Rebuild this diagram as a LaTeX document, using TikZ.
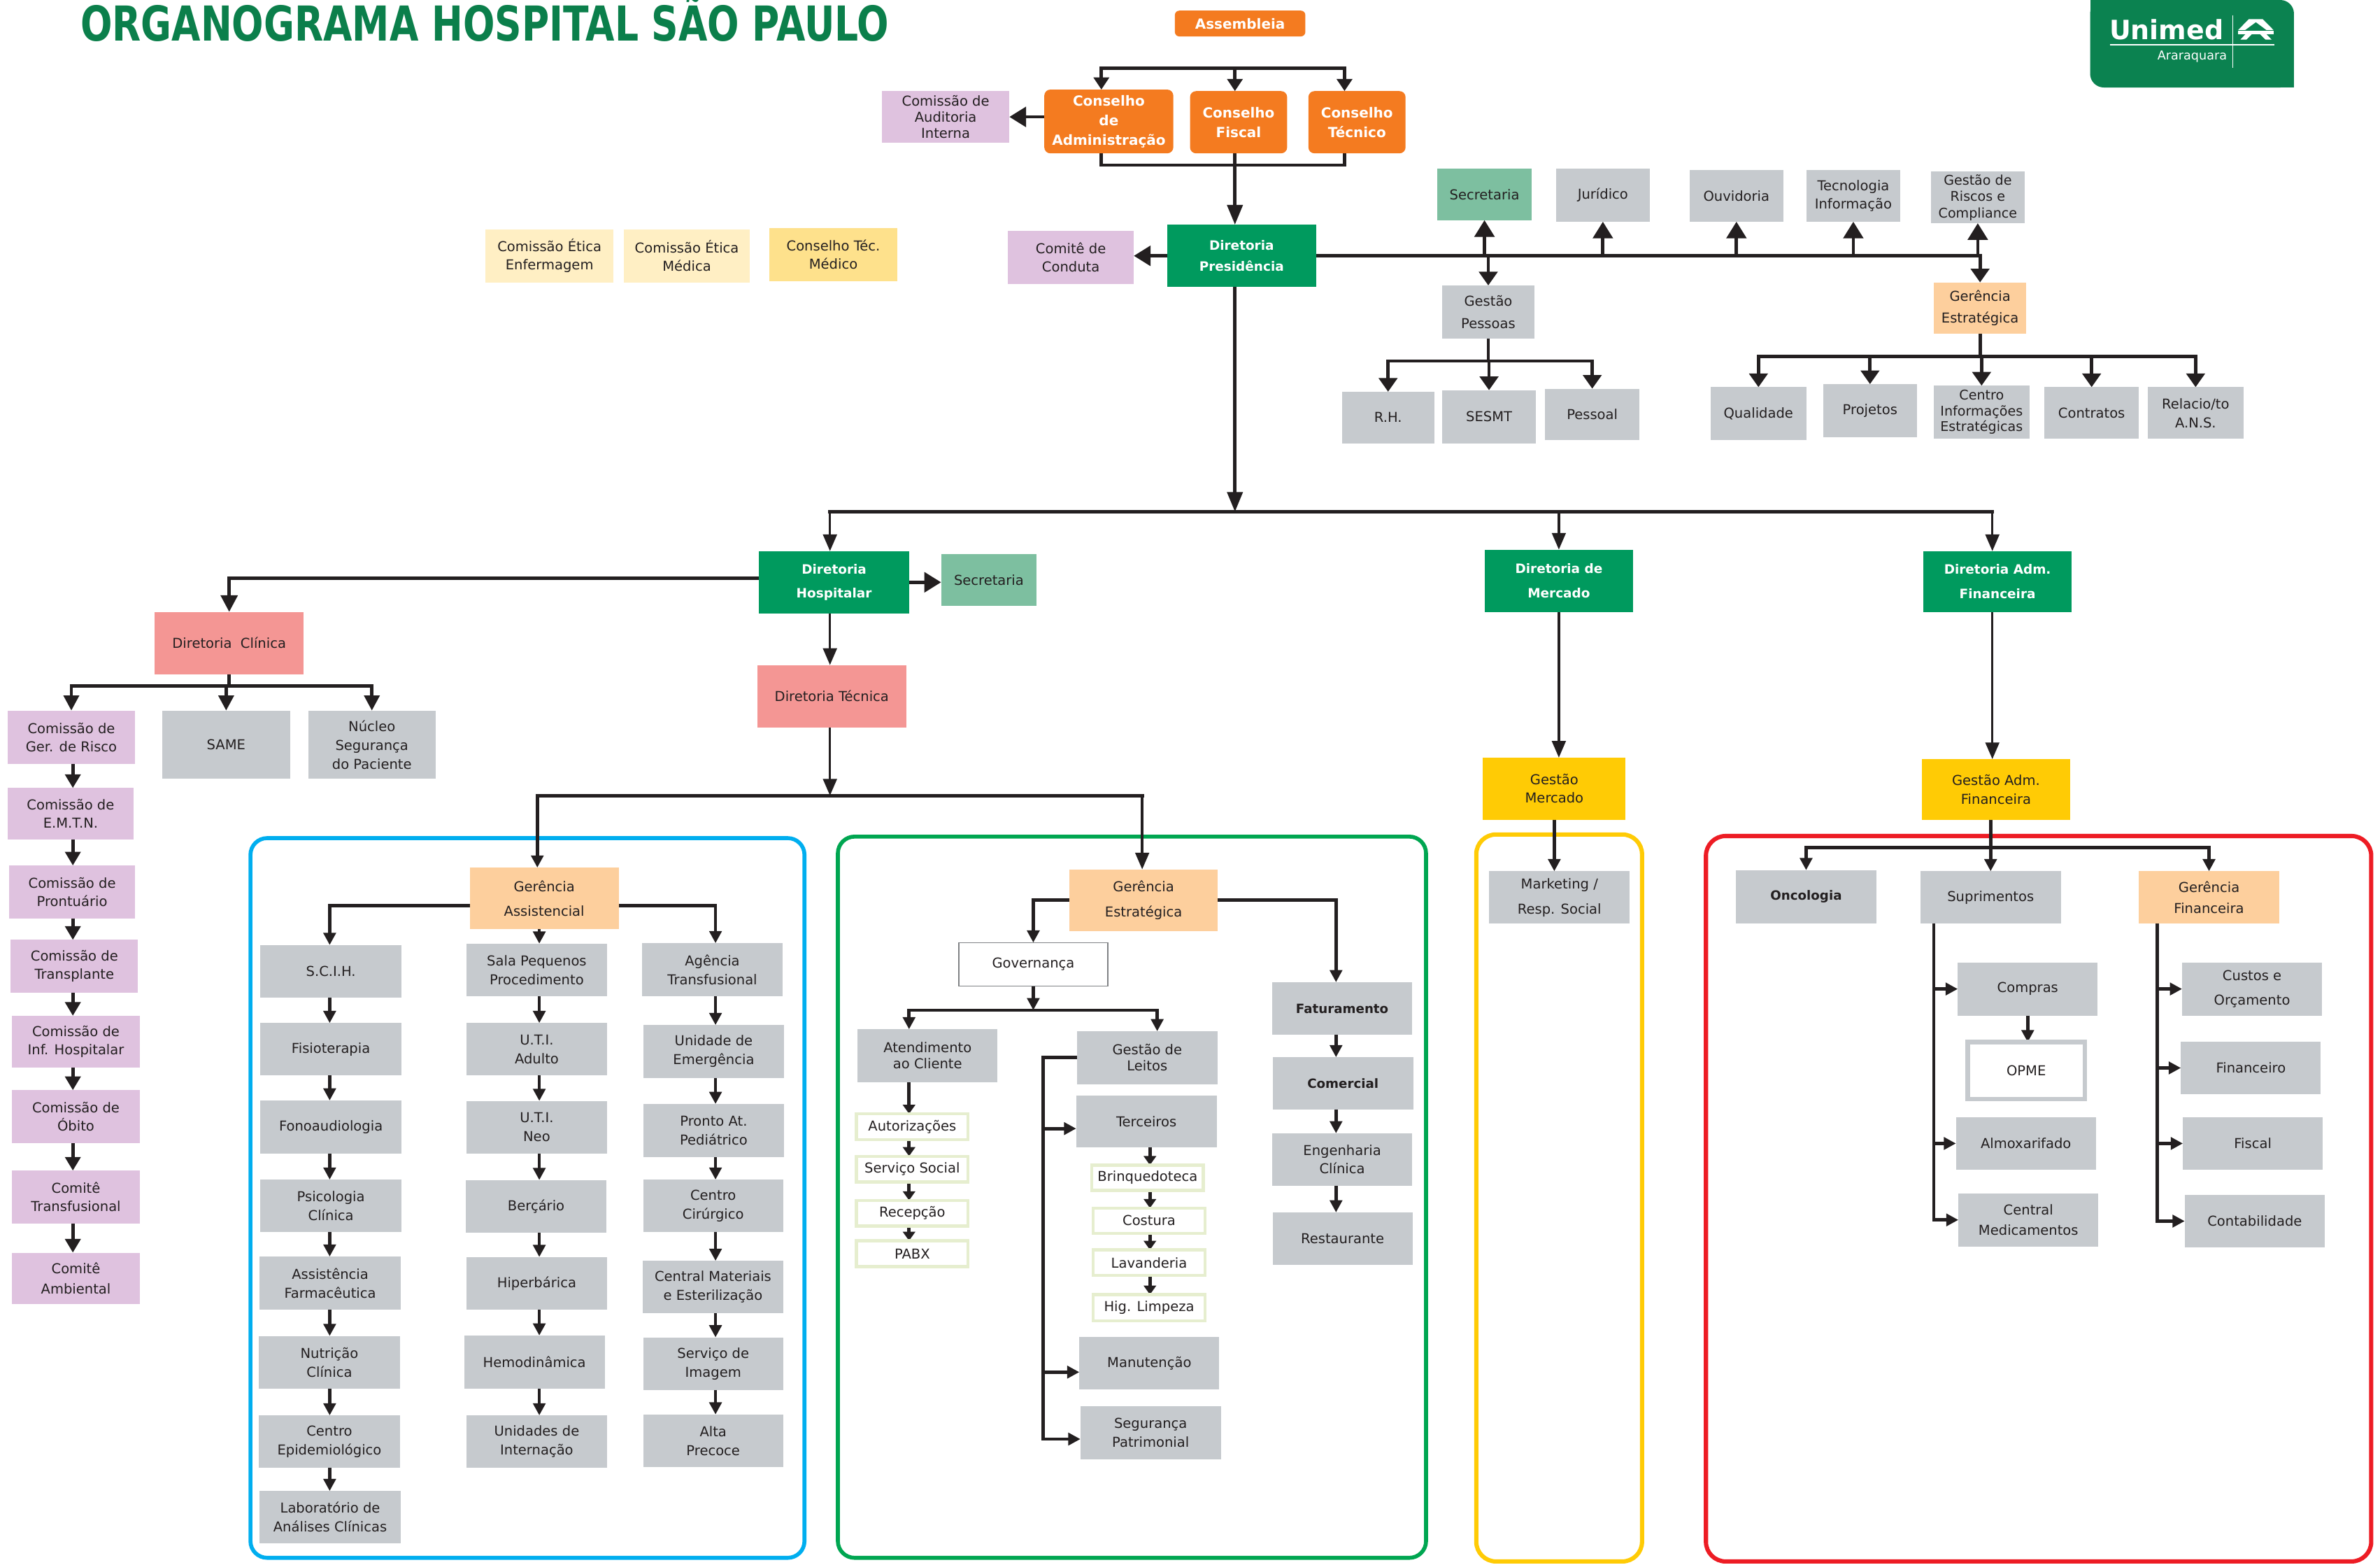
\documentclass[tikz,border=0pt]{standalone}
\usepackage{fontspec}
\usepackage{graphicx}
\setmainfont{DejaVu Sans}
\usetikzlibrary{arrows.meta}
\definecolor{ink}{HTML}{231F20}
\definecolor{orng}{HTML}{F47B20}
\definecolor{dgreen}{HTML}{009A5E}
\definecolor{mgreen}{HTML}{7DBFA0}
\definecolor{lilac}{HTML}{DFC2DF}
\definecolor{greyb}{HTML}{C6CACE}
\definecolor{peach}{HTML}{FDCF9D}
\definecolor{salmon}{HTML}{F49694}
\definecolor{yel}{HTML}{FFCB05}
\definecolor{pale}{HTML}{FFEFC4}
\definecolor{ctmc}{HTML}{FEE18C}
\definecolor{bluef}{HTML}{00AEEF}
\definecolor{greenf}{HTML}{00A651}
\definecolor{redf}{HTML}{ED1C24}
\definecolor{titleg}{HTML}{0B7F4B}
\definecolor{logog}{HTML}{0B8250}
\definecolor{paleg}{HTML}{E6EECF}
\definecolor{govb}{HTML}{808285}
\newcommand\fsz[2]{\fontsize{#1}{#2}\selectfont}
\newcommand\mkbox[7]{\node[#6, minimum width={(#4-#2)*1pt}, minimum height={(#5-#3)*1pt}] (#1) at ({(#2+#4)/2},{(#3+#5)/2}) {#7};}
\pgfdeclarelayer{frames}
\pgfdeclarelayer{lines}
\pgfsetlayers{frames,lines,main}
\tikzset{
  box/.style={inner sep=0pt, outer sep=0pt, align=center, text=ink, font=\fsz{9}{11}},
  grey/.style={box, fill=greyb},
  lil/.style={box, fill=lilac, font=\fsz{9}{12}},
  org/.style={box, fill=orng, rounded corners=4pt, text=white, font=\bfseries\fsz{9.2}{13}},
  dg/.style={box, fill=dgreen, text=white, font=\bfseries\fsz{8.5}{16}},
  pch/.style={box, fill=peach, font=\fsz{9}{16.4}},
  blu/.style={grey, font=\fsz{9}{12.5}},
  sm/.style={box, fill=white, draw=paleg, line width=2pt},
  con/.style={draw=ink, line width=2.2pt, line cap=rect},
  thn/.style={draw=ink, line width=1.6pt},
  aL/.style={-{Triangle[width=13pt,length=11pt]}},
  aD/.style={-{Triangle[width=12pt,length=9pt]}},
  aM/.style={-{Triangle[width=10pt,length=8pt]}},
  aS/.style={-{Triangle[width=8pt,length=8pt]}},
  aX/.style={-{Triangle[width=8pt,length=6pt]}},
  aT/.style={-{Triangle[width=9pt,length=11pt]}},
  aB/.style={-{Triangle[width=13pt,length=11pt]}},
  frame/.style={line width=2.6pt, rounded corners=11pt},
}
\begin{document}
\begin{tikzpicture}[x=1pt,y=-1pt]
\useasboundingbox (0,0) rectangle (1568,1030.3);
\begin{pgfonlayer}{frames}
\fill[white] (0,0) rectangle (1568,1030.3);
\end{pgfonlayer}

% ---------- title and logo
\node[anchor=base west, inner sep=0pt, text=titleg] (title) at (52.8,26.9)
  {\scalebox{0.778}[1]{\bfseries\fsz{31.7}{32}ORGANOGRAMA HOSPITAL SÃO PAULO}};
\fill[logog, rounded corners=9pt] (1377,0) rectangle (1511.3,57.6);
\fill[logog] (1377,0) rectangle (1420,20);
\fill[logog] (1460,20) rectangle (1511.3,57.6);
\node[anchor=base west, inner sep=0pt, text=white, font=\bfseries\fsz{17.5}{18}] (uni) at (1389.5,26.1) {Unimed};
\node[anchor=base east, inner sep=0pt, text=white, font=\fsz{8.1}{9}] (arq) at (1467.3,39.2) {Araraquara};
\draw[white, line width=0.7pt] (1390,29.6) -- (1498.6,29.6);
\draw[white, line width=0.7pt] (1470.9,10) -- (1470.9,44.5);
\fill[white] (1474.5,19.8) -- (1481.6,12.6) -- (1490.7,12.6) -- (1497.8,19.8) -- (1493.2,19.8) -- (1486.2,14.6) -- (1479.1,19.8) -- cycle;
\fill[white] (1474.5,20.4) rectangle (1497.8,22.6);
\fill[white] (1479.3,22.6) -- (1483.5,22.6) -- (1480,26.1) -- (1476,26.1) -- cycle;
\fill[white] (1489,22.6) -- (1493.2,22.6) -- (1496.6,26.1) -- (1492.6,26.1) -- cycle;

% ---------- top
\mkbox{asm}{774}{7}{860}{24}{org, rounded corners=3pt}{Assembleia}
\mkbox{cadm}{688}{59}{773}{101}{org}{Conselho\\de\\Administração}
\mkbox{cfis}{784}{60}{848}{101}{org}{Conselho\\Fiscal}
\mkbox{ctec}{862}{60}{926}{101}{org}{Conselho\\Técnico}
\mkbox{caud}{581}{60}{665}{94}{lil, font=\fsz{9}{10.4}}{Comissão de\\Auditoria\\Interna}
\mkbox{pres}{769}{148}{867}{189}{dg, font=\bfseries\fsz{8.5}{13.8}}{Diretoria\\Presidência}
\mkbox{cond}{664}{152}{747}{187}{lil, font=\fsz{9}{11.8}}{Comitê de\\Conduta}
\mkbox{cee}{320}{151}{404}{186}{box, fill=pale, font=\fsz{9}{11.8}}{Comissão Ética\\Enfermagem}
\mkbox{cem}{411}{151}{494}{186}{box, fill=pale, font=\fsz{9}{11.8}}{Comissão Ética\\Médica}
\mkbox{ctm}{507}{150}{591}{185}{box, fill=ctmc, font=\fsz{9}{11.8}}{Conselho Téc.\\Médico}

% ---------- top right
\mkbox{sec1}{947}{111}{1009}{145}{box, fill=mgreen}{Secretaria}
\mkbox{jur}{1025}{111}{1087}{146}{grey}{Jurídico}
\mkbox{ouv}{1113}{112}{1175}{146}{grey}{Ouvidoria}
\mkbox{ti}{1190}{112}{1252}{146}{grey, font=\fsz{9}{12}}{Tecnologia\\Informação}
\mkbox{grc}{1272}{113}{1334}{147}{grey, font=\fsz{8.8}{10.8}}{Gestão de\\Riscos e\\Compliance}
\mkbox{gp}{950}{188}{1011}{223}{grey, font=\fsz{9}{15}}{Gestão\\Pessoas}
\mkbox{gest1}{1274}{186}{1335}{220}{box, fill=peach, font=\fsz{9}{14.3}}{Gerência\\Estratégica}
\mkbox{rh}{884}{258}{945}{292}{grey}{R.H.}
\mkbox{sesmt}{950}{257}{1012}{292}{grey}{SESMT}
\mkbox{pess}{1018}{256}{1080}{290}{grey}{Pessoal}
\mkbox{qual}{1127}{255}{1190}{290}{grey}{Qualidade}
\mkbox{proj}{1201}{253}{1263}{288}{grey}{Projetos}
\mkbox{cie}{1274}{254}{1337}{289}{grey, font=\fsz{8.8}{10.4}}{Centro\\Informações\\Estratégicas}
\mkbox{contr}{1347}{255}{1409}{289}{grey}{Contratos}
\mkbox{ans}{1415}{255}{1478}{289}{grey, font=\fsz{9}{12.5}}{Relacio/to\\A.N.S.}

% ---------- directors
\mkbox{hosp}{500}{363}{599}{404}{dg}{Diretoria\\Hospitalar}
\mkbox{sec2}{620}{365}{683}{399}{box, fill=mgreen}{Secretaria}
\mkbox{merc}{978}{362}{1076}{403}{dg, font=\bfseries\fsz{8.5}{15.8}}{Diretoria de\\Mercado}
\mkbox{admf}{1267}{363}{1365}{403}{dg, font=\bfseries\fsz{8.5}{15.8}}{Diretoria Adm.\\Financeira}
\mkbox{tec}{499}{438}{597}{479}{box, fill=salmon}{Diretoria Técnica}
\mkbox{clin}{102}{403}{200}{444}{box, fill=salmon}{Diretoria\ \ Clínica}
\mkbox{gmerc}{977}{499}{1071}{540}{box, fill=yel, font=\fsz{9}{12}}{Gestão\\Mercado}
\mkbox{gadmf}{1266}{500}{1364}{540}{box, fill=yel, font=\fsz{9}{12}}{Gestão Adm.\\Financeira}

% ---------- left column
\mkbox{cgr}{5}{468}{89}{503}{lil}{Comissão de\\Ger. de Risco}
\mkbox{same}{107}{468}{191}{513}{grey}{SAME}
\mkbox{nsp}{203}{468}{287}{513}{grey, font=\fsz{9}{12.5}}{Núcleo\\Segurança\\do Paciente}
\mkbox{cemtn}{5}{519}{88}{553}{lil}{Comissão de\\E.M.T.N.}
\mkbox{cpront}{6}{570}{89}{605}{lil}{Comissão de\\Prontuário}
\mkbox{ctransp}{7}{619}{91}{654}{lil}{Comissão de\\Transplante}
\mkbox{cinf}{8}{669}{92}{703}{lil}{Comissão de\\Inf. Hospitalar}
\mkbox{cobito}{8}{718}{92}{753}{lil}{Comissão de\\Óbito}
\mkbox{ctransf}{8}{771}{92}{806}{lil}{Comitê\\Transfusional}
\mkbox{camb}{8}{825}{92}{859}{lil, font=\fsz{9}{13}}{Comitê\\Ambiental}

% ---------- frames
\begin{pgfonlayer}{frames}
\draw[frame, draw=bluef] (165,552) rectangle (530,1026);
\draw[frame, draw=greenf] (552,551) rectangle (939.5,1026);
\draw[frame, draw=yel, line width=2.8pt, rounded corners=13pt] (972.6,549.6) rectangle (1081.8,1028.4);
\draw[frame, draw=redf, line width=2.8pt, rounded corners=13pt] (1123.9,550.6) rectangle (1562.2,1028.4);
\end{pgfonlayer}

% ---------- blue area
\mkbox{gass}{309.5}{571.4}{407.6}{612.1}{pch}{Gerência\\Assistencial}
\mkbox{scih}{171.5}{622.4}{264.5}{657.2}{blu}{S.C.I.H.}
\mkbox{fisio}{171.5}{673.8}{264.5}{708.2}{blu}{Fisioterapia}
\mkbox{fono}{171.5}{724.8}{264.5}{759.6}{blu}{Fonoaudiologia}
\mkbox{psico}{171.5}{776.9}{264.5}{811.6}{blu}{Psicologia\\Clínica}
\mkbox{assist}{171}{827.6}{264}{862.4}{blu}{Assistência\\Farmacêutica}
\mkbox{nutri}{170.6}{879.9}{263.4}{914.7}{blu}{Nutrição\\Clínica}
\mkbox{cepid}{170.6}{932.2}{263.4}{966.6}{blu}{Centro\\Epidemiológico}
\mkbox{lab}{171}{982}{264}{1016.5}{blu}{Laboratório de\\Análises Clínicas}
\mkbox{sala}{307.4}{621.5}{399.8}{656.2}{blu}{Sala Pequenos\\Procedimento}
\mkbox{utia}{307.4}{673.8}{399.8}{708.2}{blu}{U.T.I.\\Adulto}
\mkbox{utin}{307.4}{725.1}{399.8}{759.9}{blu}{U.T.I.\\Neo}
\mkbox{berc}{307}{777.2}{399.4}{811.9}{blu}{Berçário}
\mkbox{hiper}{307.4}{827.9}{399.8}{862.7}{blu}{Hiperbárica}
\mkbox{hemo}{305.8}{879.6}{398.4}{914.4}{blu}{Hemodinâmica}
\mkbox{unid}{307.4}{932.2}{399.8}{966.6}{blu}{Unidades de\\Internação}
\mkbox{agen}{423.1}{621.2}{515.5}{656}{blu}{Agência\\Transfusional}
\mkbox{uemerg}{424}{675.1}{516.4}{709.9}{blu}{Unidade de\\Emergência}
\mkbox{pronto}{424}{727.1}{516.4}{761.9}{blu}{Pronto At.\\Pediátrico}
\mkbox{ccir}{423.7}{776.9}{516}{811.6}{blu}{Centro\\Cirúrgico}
\mkbox{cme}{423.5}{830.4}{516}{864.9}{blu}{Central Materiais\\e Esterilização}
\mkbox{simg}{423.7}{880.8}{516}{915.6}{blu}{Serviço de\\Imagem}
\mkbox{alta}{423.7}{931.6}{516}{966.3}{blu}{Alta\\Precoce}

% ---------- green area
\mkbox{gest2}{704.5}{572.6}{802.3}{613.3}{pch}{Gerência\\Estratégica}
\mkbox{gov}{631.7}{620.8}{729.8}{649.4}{box, fill=white, draw=govb, line width=0.7pt}{Governança}
\mkbox{atend}{565}{677.9}{657.2}{712.6}{grey, font=\fsz{9}{10.5}}{Atendimento\\ao Cliente}
\mkbox{leitos}{709.6}{679.2}{802}{714}{grey, font=\fsz{9}{10.5}}{Gestão de\\Leitos}
\mkbox{fat}{838}{646.9}{930.5}{681.6}{grey, font=\bfseries\fsz{8.4}{11}}{Faturamento}
\mkbox{com}{838.5}{696.3}{931}{730.8}{grey, font=\bfseries\fsz{8.4}{11}}{Comercial}
\mkbox{eng}{838}{746.4}{930.5}{781.2}{grey, font=\fsz{9}{12}}{Engenharia\\Clínica}
\mkbox{rest}{838.4}{798.5}{930.6}{833.2}{grey}{Restaurante}
\mkbox{aut}{564.2}{733.6}{637.8}{750.5}{sm}{Autorizações}
\mkbox{ssoc}{564.2}{761.5}{637.8}{778.4}{sm}{Serviço Social}
\mkbox{recep}{564.2}{790.6}{637.8}{807.5}{sm}{Recepção}
\mkbox{pabx}{564.2}{817.2}{637.8}{834.2}{sm}{PABX}
\mkbox{terc}{709}{721.4}{801.5}{755.8}{grey}{Terceiros}
\mkbox{brinq}{719.4}{767.4}{792.7}{784}{sm}{Brinquedoteca}
\mkbox{cost}{720.1}{795.7}{794}{812.2}{sm}{Costura}
\mkbox{lav}{720.1}{823.2}{794}{840.1}{sm}{Lavanderia}
\mkbox{hig}{720.1}{852.7}{794}{869.9}{sm}{Hig. Limpeza}
\mkbox{manut}{711.1}{880.5}{803.3}{915.3}{grey}{Manutenção}
\mkbox{seg}{711.8}{926.2}{804.3}{961}{grey, font=\fsz{9}{12}}{Segurança\\Patrimonial}

% ---------- yellow and red areas
\mkbox{mkt}{981.1}{573.8}{1073.7}{608.3}{grey, font=\fsz{9}{16.6}}{Marketing /\\Resp. Social}
\mkbox{onc}{1143.6}{573.1}{1236.2}{608.3}{grey, font=\bfseries\fsz{8.4}{11}}{Oncologia}
\mkbox{supr}{1265.1}{573.8}{1357.8}{608.3}{grey}{Suprimentos}
\mkbox{gfin}{1409}{573.8}{1501.7}{608.3}{box, fill=peach, font=\fsz{9}{13.8}}{Gerência\\Financeira}
\mkbox{compras}{1289.8}{633.9}{1382}{668.8}{grey}{Compras}
\mkbox{opme}{1296.4}{686.4}{1373.5}{723.8}{box, fill=white, draw=greyb, line width=3pt}{OPME}
\mkbox{almox}{1288.6}{735.8}{1380.8}{770.4}{grey}{Almoxarifado}
\mkbox{cmed}{1290.2}{786}{1382.5}{820.9}{grey, font=\fsz{9}{13.8}}{Central\\Medicamentos}
\mkbox{custos}{1437.6}{633.9}{1529.8}{668.8}{grey, font=\fsz{9}{16.2}}{Custos e\\Orçamento}
\mkbox{fin}{1436.8}{686.1}{1529}{720.6}{grey}{Financeiro}
\mkbox{fiscal}{1438.1}{735.8}{1530.3}{770.4}{grey}{Fiscal}
\mkbox{contab}{1439.3}{787}{1531.6}{821.5}{grey}{Contabilidade}

% ---------- connectors
\begin{pgfonlayer}{lines}
% councils
\coordinate (tl) at (725.6,44.8); \coordinate (tm) at (813.6,44.8); \coordinate (tr) at (885.8,44.8);
\coordinate (bl) at (725.6,108.7); \coordinate (br) at (885.8,108.7);
\draw[con] (tl) -- (tr);
\draw[con,aM] (tl) -- (tl |- cadm.north);
\draw[con,aM] (tm) -- (tm |- cfis.north);
\draw[con,aM] (tr) -- (tr |- ctec.north);
\draw[con] (bl |- cadm.south) -- (bl) -- (br) -- (br |- ctec.south);
\draw[con,-{Triangle[width=10pt,length=13pt]}] (tm |- cfis.south) -- (tm |- pres.north);
\draw[con,aB] (cadm.west |- caud.east) -- (caud.east);
\draw[con,aB] (pres.west) -- (cond.east |- pres.west);
% presidency staff line
\draw[con] (pres.east) -- (grc.south |- pres.east);
\foreach \n in {sec1,jur,ouv,ti,grc} \draw[con,aL] (\n.south |- pres.east) -- (\n.south);
\draw[con,aD] (gp.north |- pres.east) -- (gp.north);
\draw[con,aD] (gest1.north |- pres.east) -- (gest1.north);
\coordinate (gpy) at (0,237.8);
\draw[con] (gp.south) -- (gp.south |- gpy);
\draw[con] (rh.north |- gpy) -- (pess.north |- gpy);
\foreach \n in {rh,sesmt,pess} \draw[con,aD] (\n.north |- gpy) -- (\n.north);
\coordinate (gey) at (0,234.9);
\draw[con] (gest1.south) -- (gest1.south |- gey);
\draw[con] (qual.north |- gey) -- (ans.north |- gey);
\foreach \n in {qual,proj,cie,contr,ans} \draw[con,aD] (\n.north |- gey) -- (\n.north);
% trunk
\coordinate (trk) at (813.6,337.1); \coordinate (ml) at (546.8,337.1); \coordinate (mr) at (1312.6,337.1);
\draw[con,-{Triangle[width=10pt,length=13pt]}] (trk |- pres.south) -- (trk);
\draw[con] (ml) -- (mr);
\draw[thn,aT] (ml) -- (ml |- hosp.north);
\draw[thn,aT] (merc.north |- trk) -- (merc.north);
\draw[thn,aT] (mr) -- (mr |- admf.north);
\draw[con,aB] (hosp.east) -- (sec2.west |- hosp.east);
\coordinate (cly) at (0,381);
\draw[con,-{Triangle[width=11pt,length=11pt]}] (hosp.west |- cly) -- (clin.north |- cly) -- (clin.north);
\draw[thn,aT] (ml |- hosp.south) -- (ml |- tec.north);
\coordinate (tby) at (0,524);
\draw[thn,aT] (ml |- tec.south) -- (ml |- tby);
\coordinate (ga) at (354,524); \coordinate (gb) at (752.5,524);
\draw[con] (ga) -- (gb);
\draw[con,aS] (ga) -- (ga |- gass.north);
\draw[thn,aT] (gb) -- (gb |- gest2.north);
% clinical direction
\coordinate (cby) at (0,451.7);
\draw[con] (clin.south) -- (clin.south |- cby);
\draw[con] (cgr.north |- cby) -- (nsp.north |- cby);
\foreach \n in {cgr,same,nsp} \draw[con,-{Triangle[width=10pt,length=10pt]}] (\n.north |- cby) -- (\n.north);
\coordinate (lcx) at (48,0);
\foreach \a/\b in {cgr/cemtn,cemtn/cpront,cpront/ctransp,ctransp/cinf,cinf/cobito,cobito/ctransf,ctransf/camb}
  \draw[con,-{Triangle[width=10pt,length=9pt]}] (lcx |- \a.south) -- (lcx |- \b.north);
% blue area
\coordinate (c1) at (217.2,0); \coordinate (c2) at (355.3,0); \coordinate (c3) at (471.4,0);
\coordinate (gay) at (0,596.4);
\draw[con,aS] (gass.west |- gay) -- (c1 |- gay) -- (c1 |- scih.north);
\draw[con,aS] (gass.east |- gay) -- (c3 |- gay) -- (c3 |- agen.north);
\draw[con,aS] (c2 |- gass.south) -- (c2 |- sala.north);
\foreach \a/\b in {scih/fisio,fisio/fono,fono/psico,psico/assist,assist/nutri,nutri/cepid,cepid/lab}
  \draw[con,aS] (c1 |- \a.south) -- (c1 |- \b.north);
\foreach \a/\b in {sala/utia,utia/utin,utin/berc,berc/hiper,hiper/hemo,hemo/unid}
  \draw[con,aS] (c2 |- \a.south) -- (c2 |- \b.north);
\foreach \a/\b in {agen/uemerg,uemerg/pronto,pronto/ccir,ccir/cme,cme/simg,simg/alta}
  \draw[con,aS] (c3 |- \a.south) -- (c3 |- \b.north);
% green area
\draw[con,aS] (gest2.west) -- (gov.north |- gest2.west) -- (gov.north);
\coordinate (fx) at (880.2,0);
\draw[con,aS] (gest2.east) -- (fx |- gest2.east) -- (fx |- fat.north);
\foreach \a/\b in {fat/com,com/eng,eng/rest} \draw[con,aS] (fx |- \a.south) -- (fx |- \b.north);
\coordinate (gvy) at (0,665.3); \coordinate (g1) at (598.9,665.3); \coordinate (g2) at (762.4,665.3);
\draw[con,aS] (gov.south) -- (gov.south |- gvy);
\draw[con] (g1) -- (g2);
\draw[con,aS] (g1) -- (g1 |- atend.north);
\draw[con,aS] (g2) -- (g2 |- leitos.north);
\draw[con,aX] (g1 |- atend.south) -- (g1 |- aut.north);
\foreach \a/\b in {aut/ssoc,ssoc/recep,recep/pabx} \draw[con,aX] (g1 |- \a.south) -- (g1 |- \b.north);
\coordinate (lx) at (687.3,0);
\coordinate (tercw) at ([yshift=-4.7pt]terc.west);
\coordinate (manw) at ([yshift=-5.8pt]manut.west);
\coordinate (segw) at ([yshift=-4.2pt]seg.west);
\draw[con,aS] (leitos.west) -- (lx |- leitos.west) -- (lx |- segw) -- (segw);
\draw[con,aS] (lx |- tercw) -- (tercw);
\draw[con,aS] (lx |- manw) -- (manw);
\coordinate (tx) at (757.6,0);
\foreach \a/\b in {terc/brinq,brinq/cost,cost/lav,lav/hig} \draw[con,aX] (tx |- \a.south) -- (tx |- \b.north);
% market
\draw[thn,aT] (merc.south) -- (merc.south |- gmerc.north);
\draw[con,aS] (gmerc.south) -- (gmerc.south |- mkt.north);
% adm financial
\draw[thn,aT] (mr |- admf.south) -- (mr |- gadmf.north);
\coordinate (rby) at (0,558.2);
\draw[con,aS] (supr.north |- gadmf.south) -- (supr.north);
\draw[con] (onc.north |- rby) -- (gfin.north |- rby);
\draw[con,aS] (onc.north |- rby) -- (onc.north);
\draw[con,aS] (gfin.north |- rby) -- (gfin.north);
\coordinate (sx) at (1274,0);
\draw[con,aS] (sx |- supr.south) -- (sx |- cmed.west) -- (cmed.west);
\draw[con,aS] (sx |- compras.west) -- (compras.west);
\draw[con,aS] (sx |- almox.west) -- (almox.west);
\draw[con,aS] (compras.south) -- (compras.south |- opme.north);
\coordinate (gx) at (1421.4,0);
\draw[con,aS] (gx |- gfin.south) -- (gx |- contab.west) -- (contab.west);
\foreach \n in {custos,fin,fiscal} \draw[con,aS] (gx |- \n.west) -- (\n.west);
\end{pgfonlayer}
\end{tikzpicture}
\end{document}
